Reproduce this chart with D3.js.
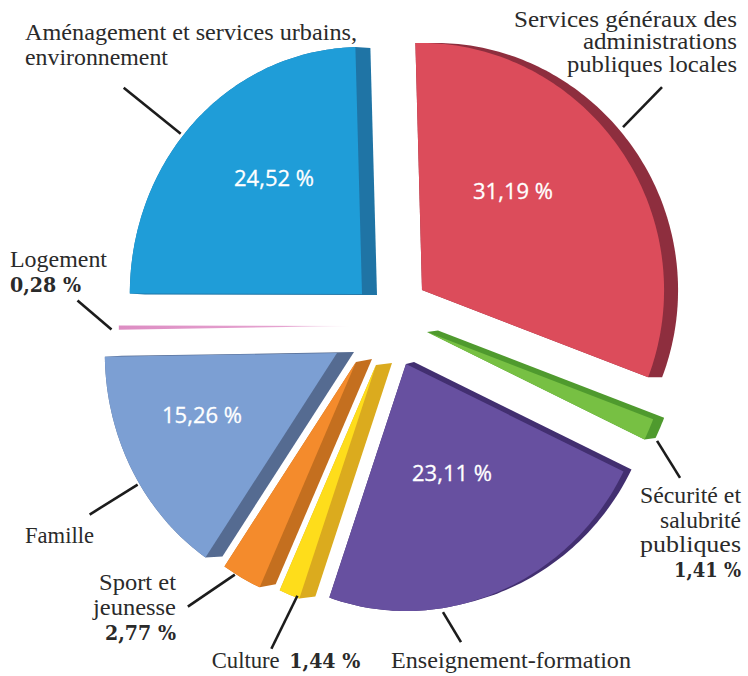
<!DOCTYPE html>
<html><head><meta charset="utf-8">
<script src="https://cdn.jsdelivr.net/npm/d3@7/dist/d3.min.js"></script>
<style>body{margin:0;background:#fff}svg{display:block}</style>
</head><body>
<svg id="chart" width="748" height="676"></svg>
<script>
// ---- data ----
const categories = ["Services généraux des administrations publiques locales","Sécurité et salubrité publiques","Enseignement-formation","Culture","Sport et jeunesse","Famille","Logement","Aménagement et services urbains, environnement"];
const shares = [31.19, 1.41, 23.11, 1.44, 2.77, 15.26, 0.28, 24.52];
const shareLabels = ["31,19 %","1,41 %","23,11 %","1,44 %","2,77 %","15,26 %","0,28 %","24,52 %"];
// label line breaks (text only)
const labelLines = [
  ["Services généraux des","administrations","publiques locales"],
  ["Sécurité et","salubrité","publiques"],
  ["Enseignement-formation"],
  ["Culture"],
  ["Sport et","jeunesse"],
  ["Famille"],
  ["Logement"],
  ["Aménagement et services urbains,","environnement"]
];
const showShareInLabel = [false,true,false,true,true,false,true,false];

// ---- style ----
const topColors  = ["#dc4c5b","#77c043","#6750a0","#fedd1b","#f48b2c","#7c9fd3","#df8fc4","#1f9dd8"];
const sideColors = ["#8e2e3e","#4f9a2e","#422f70","#dbab1e","#c46f1f","#556b91","#df8fc4","#1f74a5"];
const explode = [[35,-28],[40,14],[19,46],[-11,47],[-31,44],[-50,35],[-36,8],[-25,-24]];
const depth   = [[14,0],[11,-1.5],[8,-2],[16,-2],[16,-3],[17,-1],[0,0],[15,1]];
const innerLabelOffset = [[91,-91],null,[46,117],null,null,[-135,70],null,[-88,-108]];
const leaders = [[0.474,15.5,39,-40],[0.82,12,23,37],[0.666,4,18,30],[0.13,-2,-26,53],[0.68,1,-47,32],[0.436,2,-48,30],[0.1,8,-34,-29],[0.45,3,-57,-46]];
const labelLayout = [
  {x:737, y:26.5, anchor:"end", lh:22.5, widths:[223,154,170]},
  {x:741, y:503, anchor:"end", lh:24.6, widths:[101,81,101], pw:67},
  {x:391, y:668, anchor:"start", lh:25, widths:[240]},
  {x:211.7, y:668, anchor:"start", lh:25, widths:[68], inline:true, px:289.3, pw:71},
  {x:176, y:590, anchor:"end", lh:25, widths:[77,83], pw:71},
  {x:25, y:543, anchor:"start", lh:25, widths:[69]},
  {x:10, y:267, anchor:"start", lh:25, widths:[97], pw:71},
  {x:25, y:39.5, anchor:"start", lh:25, widths:[332,143]}
];
const center = [387,318];
const R = 247;
const rot = -1.6 * Math.PI/180;
const textColor = "#2a2a2a";

const svg = d3.select("#chart");
const pie = d3.pie().sort(null).value(d=>d).startAngle(rot).endAngle(rot + 2*Math.PI);
const arcs = pie(shares);

function project(x,y){ return [x*(0.96 + 0.02*x/R), y]; }
function polar(a, r){ return project(r*Math.sin(a), -r*Math.cos(a)); }
function slicePts(d, r){
  const n = Math.max(2, Math.ceil((d.endAngle-d.startAngle)/(Math.PI/180)));
  const pts = [[0,0]];
  for(let i=0;i<=n;i++){ const a = d.startAngle + (d.endAngle-d.startAngle)*i/n; pts.push(polar(a, r)); }
  return pts;
}
const line = d3.line().curve(d3.curveLinearClosed);

const defs = svg.append("defs");
const grad = defs.append("linearGradient").attr("id","logGrad").attr("x1","0%").attr("x2","100%").attr("y1","0%").attr("y2","0%");
grad.append("stop").attr("offset","0%").attr("stop-color","#dd8dc3");
grad.append("stop").attr("offset","70%").attr("stop-color","#e5a3d0");
grad.append("stop").attr("offset","100%").attr("stop-color","#fbeef6");

const g = svg.append("g");
arcs.forEach((d,i)=>{
  const cx = center[0]+explode[i][0], cy = center[1]+explode[i][1];
  const sg = g.append("g").attr("transform",`translate(${cx},${cy})`);
  const pts = slicePts(d, R);
  const [ox,oy] = depth[i];
  if(ox||oy){
    const all = pts.concat(pts.map(p=>[p[0]+ox,p[1]+oy]));
    const hull = d3.polygonHull(all);
    sg.append("path").attr("d", line(hull)).attr("fill", sideColors[i]);
  }
  sg.append("path").attr("d", line(pts))
    .attr("fill", i===6 ? "url(#logGrad)" : topColors[i]);
  // leader line
  const [t,gap,lx,ly] = leaders[i];
  const a = d.startAngle + (d.endAngle-d.startAngle)*t;
  const s = polar(a, R+gap);
  svg.append("line").attr("x1",cx+s[0]).attr("y1",cy+s[1]).attr("x2",cx+s[0]+lx).attr("y2",cy+s[1]+ly)
    .attr("stroke","#1c1c1c").attr("stroke-width",2.6);
  // inner label
  if(innerLabelOffset[i]){
    svg.append("text").attr("x",cx+innerLabelOffset[i][0]).attr("y",cy+innerLabelOffset[i][1])
      .attr("text-anchor","middle").attr("fill","#fff")
      .attr("font-family","'Open Sans', sans-serif").attr("font-size",22)
      .attr("stroke","#fff").attr("stroke-width",0.3)
      .text(shareLabels[i]);
  }
});

// outer labels
labelLayout.forEach((L,i)=>{
  const lines = labelLines[i];
  lines.forEach((txt,k)=>{
    svg.append("text").attr("x",L.x).attr("y",L.y + k*L.lh)
      .attr("text-anchor",L.anchor).attr("fill",textColor)
      .attr("font-family","'Liberation Serif', serif").attr("font-size",23)
      .attr("textLength",L.widths[k]).attr("lengthAdjust","spacingAndGlyphs")
      .text(txt);
  });
  if(showShareInLabel[i]){
    const px = L.inline ? L.px : L.x;
    const py = L.inline ? L.y : L.y + lines.length*L.lh;
    const anchor = L.inline ? "start" : L.anchor;
    svg.append("text").attr("x",px).attr("y",py)
      .attr("text-anchor",anchor).attr("fill",textColor)
      .attr("font-family","'DejaVu Serif', serif").attr("font-weight","bold").attr("font-size",20)
      .attr("textLength",L.pw).attr("lengthAdjust","spacingAndGlyphs")
      .text(shareLabels[i]);
  }
});
</script>
</body></html>
